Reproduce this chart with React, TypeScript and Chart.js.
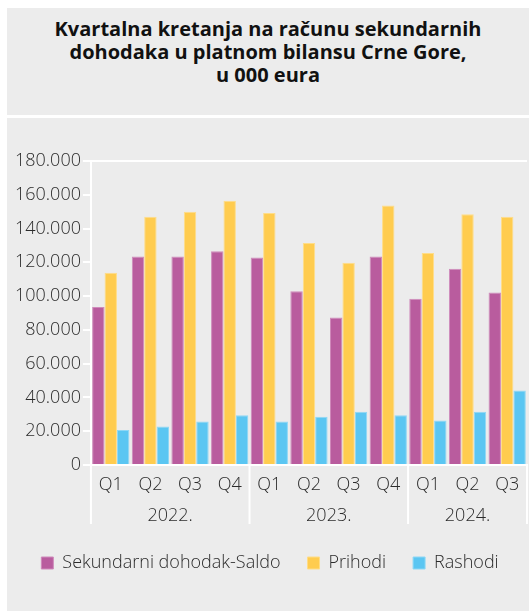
import React, { useEffect, useRef } from "react";
import { Chart, registerables } from "chart.js";

Chart.register(...registerables);

const quarters = ["Q1", "Q2", "Q3", "Q4", "Q1", "Q2", "Q3", "Q4", "Q1", "Q2", "Q3"];
const years = ["2022.", "2023.", "2024."];
const yearGroupSizes = [4, 4, 3];

const saldo = [93600, 123400, 123400, 126500, 122800, 102900, 87400, 123400, 98500, 116200, 102100];
const prihodi = [113800, 147000, 150000, 156500, 149200, 131500, 119800, 153600, 125600, 148400, 147000];
const rashodi = [20700, 22800, 25800, 29400, 25800, 28600, 31600, 29400, 26400, 31600, 44100];

const seriesNames = ["Sekundarni dohodak-Saldo", "Prihodi", "Rashodi"];

const yMin = 0;
const yMax = 180000;
const yStep = 20000;

const FONT = "'Open Sans', sans-serif";
const TEXT = "#2b2b2b";
const BG = "#ececec";

function fmt(v: number): string {
  return String(v).replace(/\B(?=(\d{3})+(?!\d))/g, ".");
}

const groupPlugin = {
  id: "yearGroups",
  afterDraw(chart: any) {
    const { ctx, chartArea } = chart;
    const x = chart.scales.x;
    const bottom = chartArea.bottom;
    const half = (x.getPixelForValue(1) - x.getPixelForValue(0)) / 2;
    ctx.save();
    ctx.strokeStyle = "#ffffff";
    ctx.lineWidth = 2;
    let idx = 0;
    const bounds: number[] = [x.getPixelForValue(0) - half];
    yearGroupSizes.forEach((n) => {
      idx += n;
      bounds.push(x.getPixelForValue(idx - 1) + half);
    });
    bounds.forEach((bx) => {
      ctx.beginPath();
      ctx.moveTo(bx, bottom);
      ctx.lineTo(bx, bottom + 59);
      ctx.stroke();
    });
    ctx.fillStyle = TEXT;
    ctx.font = `300 18px ${FONT}`;
    ctx.textAlign = "center";
    ctx.textBaseline = "middle";
    let start = 0;
    years.forEach((yr, i) => {
      const n = yearGroupSizes[i];
      const cx = (x.getPixelForValue(start) + x.getPixelForValue(start + n - 1)) / 2;
      ctx.fillText(yr, cx, bottom + 51);
      start += n;
    });
    ctx.restore();
  },
};

export default function App() {
  const ref = useRef<HTMLCanvasElement | null>(null);

  useEffect(() => {
    if (!ref.current) return;
    const chart = new Chart(ref.current, {
      type: "bar",
      data: {
        labels: quarters,
        datasets: [
          { label: seriesNames[0], data: saldo, backgroundColor: "#b95c9e", borderColor: "#cf8abb", borderWidth: 1 },
          { label: seriesNames[1], data: prihodi, backgroundColor: "#ffcc4f", borderColor: "#ffdd88", borderWidth: 1 },
          { label: seriesNames[2], data: rashodi, backgroundColor: "#5bc6f2", borderColor: "#8ed7f5", borderWidth: 1 },
        ],
      },
      options: {
        animation: false,
        responsive: false,
        maintainAspectRatio: false,
        layout: { padding: { left: 6, right: 2, top: 43, bottom: 29 } },
        datasets: { bar: { categoryPercentage: 0.94, barPercentage: 1.0 } },
        scales: {
          x: {
            grid: { display: false },
            border: { display: true, color: "#ffffff", width: 2 },
            ticks: { color: TEXT, font: { family: FONT, size: 18, weight: "300" as any }, padding: 1, maxRotation: 0, autoSkip: false },
            afterFit(scale: any) {
              scale.height = 62;
            },
          },
          y: {
            min: yMin,
            max: yMax,
            ticks: {
              stepSize: yStep,
              color: TEXT,
              font: { family: FONT, size: 18, weight: "300" as any },
              padding: 2,
              callback: (v: any) => fmt(Number(v)),
            },
            grid: {
              color: (c: any) => (c.tick && c.tick.value === yMax ? "#ffffff" : "rgba(0,0,0,0)"),
              tickColor: "#ffffff",
              tickLength: 8,
              lineWidth: 2,
            },
            border: { display: true, color: "#ffffff", width: 2 },
          },
        },
        plugins: {
          legend: {
            position: "bottom",
            labels: {
              boxWidth: 12,
              boxHeight: 12,
              padding: 27,
              color: TEXT,
              font: { family: FONT, size: 18, weight: "300" as any },
            },
          },
          tooltip: { enabled: false },
        },
      },
      plugins: [groupPlugin],
    });
    return () => chart.destroy();
  }, []);

  return (
    <div style={{ position: "absolute", left: 7, top: 8, right: 0, bottom: 0 }}>
      <div
        style={{
          background: BG,
          height: 107,
          boxSizing: "border-box",
          paddingTop: 9,
          textAlign: "center",
          fontFamily: FONT,
          fontWeight: 700,
          fontSize: 20,
          lineHeight: "23px",
          color: "#111",
        }}
      >
        Kvartalna kretanja na računu sekundarnih
        <br />
        dohodaka u platnom bilansu Crne Gore,
        <br />u 000 eura
      </div>
      <div style={{ height: 3, background: "#fff" }} />
      <div style={{ background: BG, height: 493 }}>
        <canvas ref={ref} width={522} height={493} style={{ display: "block" }} />
      </div>
    </div>
  );
}
